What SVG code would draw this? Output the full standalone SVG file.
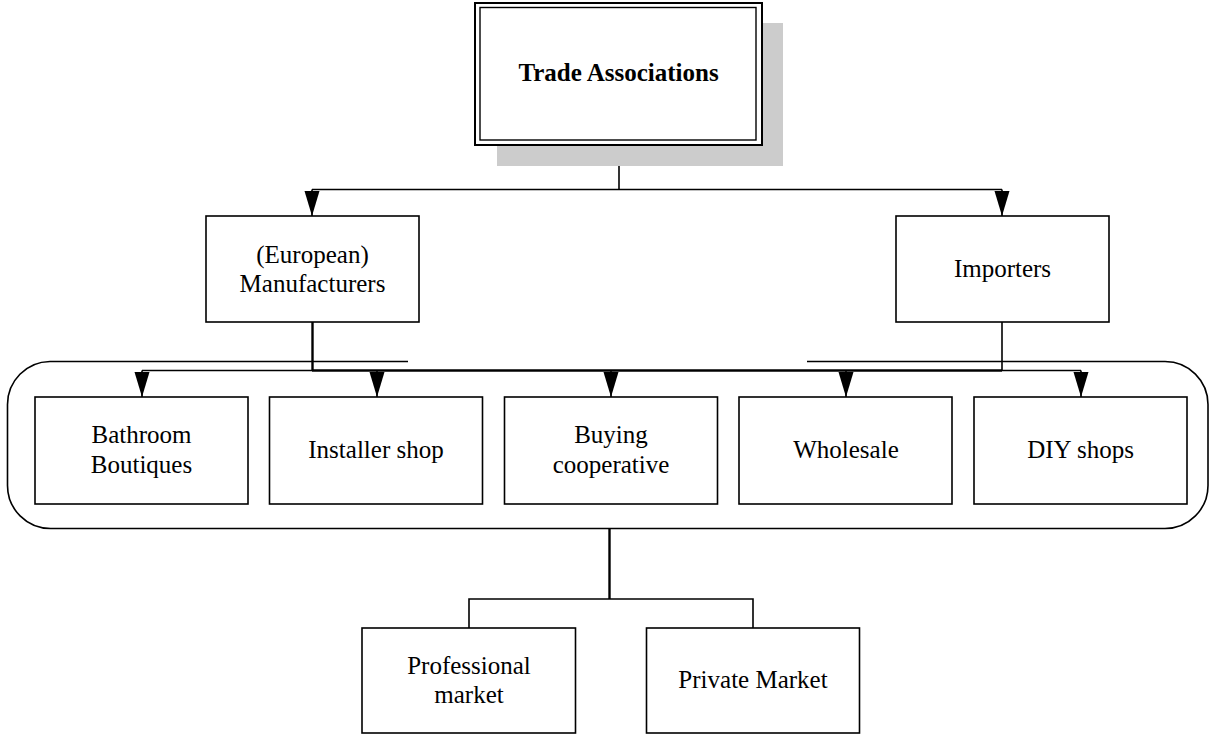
<svg xmlns="http://www.w3.org/2000/svg" width="1211" height="735" viewBox="0 0 1211 735">
<style>
.box{fill:#fff;stroke:#000;stroke-width:1.6}
.ln{fill:none;stroke:#000;stroke-width:1.6}
.thick{fill:none;stroke:#000;stroke-width:2.4}
.t{font-family:"Liberation Serif","Times New Roman",serif;font-size:25px;fill:#000;text-anchor:middle}
.b{font-weight:bold}
</style>
<defs>
<marker id="arr" markerUnits="userSpaceOnUse" markerWidth="25" markerHeight="16" refX="25" refY="7.5" orient="auto" viewBox="0 0 25 15">
<path d="M0,0 L25,7.5 L0,15 z" fill="#000"/>
</marker>
</defs>
<rect width="1211" height="735" fill="#fff"/>

<g id="group-outline">
<path class="ln" d="M408,361.5 L50,361.5 A43,43 0 0 0 7.5,404.5 L7.5,485.5 A43,43 0 0 0 50.5,528.5 L1165,528.5 A43,43 0 0 0 1208,485.5 L1208,404.5 A43,43 0 0 0 1165,361.5 L807,361.5"/>
</g>

<g id="connectors">
<line class="ln" x1="619" y1="145" x2="619" y2="190"/>
<line class="ln" x1="312" y1="189.5" x2="1002" y2="189.5"/>
<line class="ln" x1="312" y1="189.5" x2="312" y2="216" marker-end="url(#arr)"/>
<line class="ln" x1="1002" y1="189.5" x2="1002" y2="216" marker-end="url(#arr)"/>
<line class="thick" x1="312.5" y1="322" x2="312.5" y2="371"/>
<line class="ln" x1="1002" y1="322" x2="1002" y2="371"/>
<line class="ln" x1="142" y1="370.5" x2="312" y2="370.5"/>
<line class="thick" x1="312" y1="370.5" x2="1002" y2="370.5"/>
<line class="ln" x1="1002" y1="370.5" x2="1081" y2="370.5"/>
<line class="ln" x1="142" y1="370.5" x2="142" y2="397" marker-end="url(#arr)"/>
<line class="ln" x1="377" y1="370.5" x2="377" y2="397" marker-end="url(#arr)"/>
<line class="ln" x1="611" y1="370.5" x2="611" y2="397" marker-end="url(#arr)"/>
<line class="ln" x1="846" y1="370.5" x2="846" y2="397" marker-end="url(#arr)"/>
<line class="ln" x1="1081" y1="370.5" x2="1081" y2="397" marker-end="url(#arr)"/>
<line class="thick" x1="609.5" y1="529" x2="609.5" y2="599"/>
<path class="ln" d="M469,628 L469,599 L753,599 L753,628"/>
</g>

<g id="node-trade">
<rect x="497" y="23" width="286" height="143" fill="#cccccc"/>
<rect x="475" y="3" width="287" height="142" fill="#fff" stroke="#000" stroke-width="2"/>
<rect x="480" y="7.5" width="276" height="132.5" fill="none" stroke="#000" stroke-width="1.4"/>
<text class="t b" x="618.5" y="81">Trade Associations</text>
</g>

<g id="node-manufacturers">
<rect class="box" x="206" y="216" width="213" height="106"/>
<text class="t" x="312.5" y="263">(European)</text>
<text class="t" x="312.5" y="292">Manufacturers</text>
</g>

<g id="node-importers">
<rect class="box" x="896" y="216" width="213" height="106"/>
<text class="t" x="1002.5" y="277">Importers</text>
</g>

<g id="node-bathroom">
<rect class="box" x="35" y="397" width="213" height="107"/>
<text class="t" x="141.5" y="443">Bathroom</text>
<text class="t" x="141.5" y="473">Boutiques</text>
</g>

<g id="node-installer">
<rect class="box" x="269.5" y="397" width="213" height="107"/>
<text class="t" x="376" y="458">Installer shop</text>
</g>

<g id="node-buying">
<rect class="box" x="504.5" y="397" width="213" height="107"/>
<text class="t" x="611" y="443">Buying</text>
<text class="t" x="611" y="473">cooperative</text>
</g>

<g id="node-wholesale">
<rect class="box" x="739" y="397" width="213" height="107"/>
<text class="t" x="846" y="458">Wholesale</text>
</g>

<g id="node-diy">
<rect class="box" x="974" y="397" width="213" height="107"/>
<text class="t" x="1080.5" y="458">DIY shops</text>
</g>

<g id="node-professional">
<rect class="box" x="362" y="628" width="213.5" height="105"/>
<text class="t" x="469" y="674">Professional</text>
<text class="t" x="469" y="703">market</text>
</g>

<g id="node-private">
<rect class="box" x="646.5" y="628" width="213" height="105"/>
<text class="t" x="753" y="688">Private Market</text>
</g>
</svg>
